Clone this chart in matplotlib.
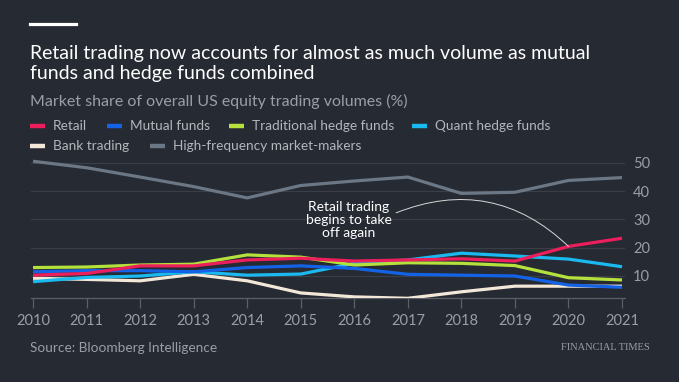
import matplotlib.pyplot as plt
from matplotlib.lines import Line2D

# --- data ---
years = list(range(2010, 2022))
retail = [10.2, 10.8, 13.5, 13.5, 15.6, 16.2, 15.2, 15.6, 16.0, 15.2, 20.4, 23.3]
mutual_funds = [11.4, 11.8, 11.8, 11.4, 12.9, 13.5, 12.6, 10.5, 10.2, 9.9, 6.7, 5.9]
trad_hedge = [12.9, 13.1, 13.8, 14.1, 17.4, 16.6, 13.8, 14.6, 14.4, 13.6, 9.3, 8.5]
quant_hedge = [7.9, 9.4, 9.9, 11.4, 10.2, 10.6, 14.4, 15.6, 18.0, 17.0, 15.9, 13.2]
bank_trading = [9.1, 8.7, 8.2, 10.5, 8.2, 3.9, 2.5, 2.0, 4.3, 6.3, 6.3, 6.3]
hft = [50.6, 48.3, 45.0, 41.6, 37.6, 42.0, 43.6, 45.0, 39.2, 39.6, 43.8, 44.8]

series_names = ['Retail', 'Mutual funds', 'Traditional hedge funds',
                'Quant hedge funds', 'Bank trading', 'High-frequency market-makers']
series_values = [retail, mutual_funds, trad_hedge, quant_hedge, bank_trading, hft]
colors = ['#ec1e5c', '#1463e6', '#b5e13c', '#1ab9ef', '#f3e7d8', '#6b7784']
# draw order: HFT and bank behind, retail on top
draw_order = [5, 4, 3, 2, 1, 0]
y_ticks = [10, 20, 30, 40, 50]

BG = '#262a33'
GRID = '#3a3e47'
GREY_TXT = '#9b9ea4'

plt.rcParams['font.family'] = ['Lato', 'DejaVu Sans']

W, H = 679, 382
fig = plt.figure(figsize=(W / 100, H / 100), dpi=100, facecolor=BG)

def fx(px):
    return px / W

def fy(py):
    return 1 - py / H

# axes placed in pixel terms
x0, x1 = 2009.96, 2021.05
y0, y1 = 2, 52
ax_left, ax_right = 30.9, 624.7
ax_top, ax_bot = 157.3, 298.3
ax = fig.add_axes([fx(ax_left), fy(ax_bot), fx(ax_right - ax_left), (ax_bot - ax_top) / H])
ax.set_facecolor(BG)

for i in draw_order:
    ax.plot(years, series_values[i], color=colors[i], lw=2.3, solid_capstyle='butt',
            solid_joinstyle='miter', zorder=3)

ax.set_xlim(x0, x1)
ax.set_ylim(y0, y1)
ax.set_xticks(years)
ax.set_xticklabels([str(y) for y in years])
ax.set_yticks(y_ticks)
ax.yaxis.tick_right()
ax.grid(axis='y', color=GRID, lw=0.9)
ax.set_axisbelow(True)
for s in ['top', 'left', 'right']:
    ax.spines[s].set_visible(False)
ax.spines['bottom'].set_color('#5b5f68')
ax.spines['bottom'].set_linewidth(0.9)
ax.tick_params(axis='x', colors='#5b5f68', length=7, width=0.9, pad=4,
               labelcolor=GREY_TXT, labelsize=10.5)
ax.tick_params(axis='y', length=0, pad=6, labelcolor=GREY_TXT, labelsize=10.5)

# annotation
ax.text(2015.9, 29.9, 'Retail trading\nbegins to take\noff again', color='white',
        fontsize=10, ha='center', va='center', linespacing=1.1, zorder=5)
ax.annotate('', xy=(2020, 20.4), xytext=(2016.78, 32.3),
            arrowprops=dict(arrowstyle='-', color='#d8d8d8', lw=0.7,
                            connectionstyle='arc3,rad=-0.32',
                            shrinkA=0, shrinkB=0), zorder=4)

# header
fig.add_artist(Line2D([fx(30), fx(76)], [fy(24.2), fy(24.2)], color='white', lw=2.3))
fig.text(fx(30), fy(63.5), 'Retail trading now accounts for almost as much volume as mutual\n'
         'funds and hedge funds combined', color='white', fontsize=14.0,
         ha='left', va='center', linespacing=1.28)
fig.text(fx(30), fy(101), 'Market share of overall US equity trading volumes (%)',
         color=GREY_TXT, fontsize=11.5, ha='left', va='center')

# legend (manual, two rows like the original)
legend_pos = [(30, 126), (107, 126), (229, 126), (412, 126), (30, 146), (150, 146)]
for (lx, ly), name, c in zip(legend_pos, series_names, colors):
    fig.add_artist(Line2D([fx(lx), fx(lx + 15)], [fy(ly), fy(ly)], color=c, lw=3.2,
                          solid_capstyle='butt'))
    fig.text(fx(lx + 23), fy(ly), name, color='#b3b6bb', fontsize=9.8,
             ha='left', va='center')

# footer
fig.text(fx(30), fy(347.5), 'Source: Bloomberg Intelligence', color=GREY_TXT,
         fontsize=9.8, ha='left', va='center')
fig.text(fx(650), fy(347.5), 'FINANCIAL TIMES', color=GREY_TXT, fontsize=7.5,
         family='Liberation Serif', ha='right', va='center')

fig.savefig('out.png', dpi=100, facecolor=BG)
